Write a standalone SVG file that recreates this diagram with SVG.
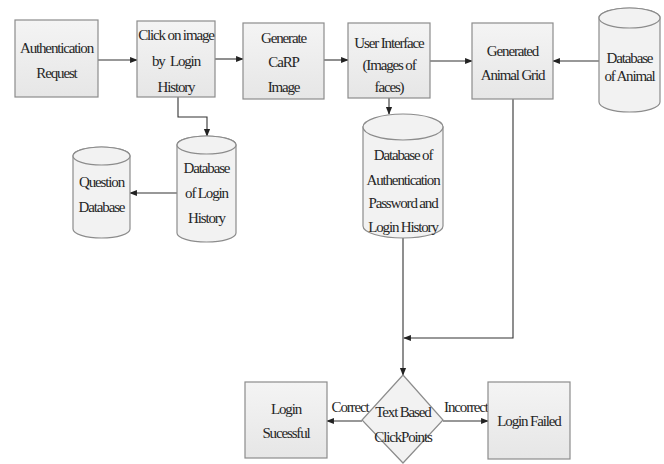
<svg xmlns="http://www.w3.org/2000/svg" width="664" height="464" viewBox="0 0 664 464">
<defs>
<linearGradient id="g" x1="0" y1="0" x2="0" y2="1"><stop offset="0" stop-color="#f4f4f4"/><stop offset="1" stop-color="#e6e6e6"/></linearGradient>
<marker id="a" viewBox="0 0 10 10" refX="9" refY="5" markerWidth="7" markerHeight="7" orient="auto"><path d="M0,1 L10,5 L0,9 z" fill="#222"/></marker>
</defs>
<style>
.b{fill:url(#g);stroke:#8c8c8c;stroke-width:1.2}
.c{fill:#f2f2f2;stroke:#8c8c8c;stroke-width:1.2}
.t{font-family:"Liberation Serif",serif;font-size:15px;fill:#262626;text-anchor:middle;letter-spacing:-1.15px}
.l{fill:none;stroke:#333;stroke-width:1.1}
</style>
<rect width="664" height="464" fill="#fff"/>
<g id="connectors">
<path class="l" d="M98,60 H137" marker-end="url(#a)"/>
<path class="l" d="M215,59 H243" marker-end="url(#a)"/>
<path class="l" d="M324,60 H348" marker-end="url(#a)"/>
<path class="l" d="M430,61 H472" marker-end="url(#a)"/>
<path class="l" d="M599,61 H553" marker-end="url(#a)"/>
<path class="l" d="M178,97 V117 H207 V136" marker-end="url(#a)"/>
<path class="l" d="M177,193 H130" marker-end="url(#a)"/>
<path class="l" d="M389,98 V114" marker-end="url(#a)"/>
<path class="l" d="M513,99 V338 H404" marker-end="url(#a)"/>
<path class="l" d="M403,237 V375" marker-end="url(#a)"/>
<path class="l" d="M362,421 H327" marker-end="url(#a)"/>
<path class="l" d="M443,421 H488" marker-end="url(#a)"/>
<text class="t" x="350" y="412">Correct</text>
<text class="t" x="466" y="412">Incorrect</text>
</g>
<g id="auth">
<rect class="b" x="15" y="20" width="83" height="77"/>
<text class="t" x="56.5" y="53">Authentication</text>
<text class="t" x="56.5" y="78">Request</text>
</g>
<g id="click">
<rect class="b" x="137" y="21" width="78" height="76"/>
<text class="t" x="176" y="40">Click on image</text>
<text class="t" x="176" y="66">by &#160;Login</text>
<text class="t" x="176" y="92">History</text>
</g>
<g id="carp">
<rect class="b" x="243" y="23" width="81" height="76"/>
<text class="t" x="283.5" y="43">Generate</text>
<text class="t" x="283.5" y="67">CaRP</text>
<text class="t" x="283.5" y="92">Image</text>
</g>
<g id="ui">
<rect class="b" x="348" y="23" width="82" height="75"/>
<text class="t" x="389" y="48">User Interface</text>
<text class="t" x="389" y="70">(Images of</text>
<text class="t" x="389" y="92">faces)</text>
</g>
<g id="grid">
<rect class="b" x="472" y="23" width="81" height="76"/>
<text class="t" x="512.5" y="56">Generated</text>
<text class="t" x="512.5" y="80">Animal Grid</text>
</g>
<g id="dbanimal">
<path class="c" d="M599,18 V102 A30.5,10 0 0 0 660,102 V18 A30.5,10 0 0 0 599,18 Z"/>
<ellipse class="c" cx="629.5" cy="18" rx="30.5" ry="10"/>
<text class="t" x="629.5" y="63">Database</text>
<text class="t" x="629.5" y="81">of Animal</text>
</g>
<g id="dblogin">
<path class="c" d="M177,145 V233 A29.5,9 0 0 0 236,233 V145 A29.5,9 0 0 0 177,145 Z"/>
<ellipse class="c" cx="206.5" cy="145" rx="29.5" ry="9"/>
<text class="t" x="206.5" y="173">Database</text>
<text class="t" x="206.5" y="198">of Login</text>
<text class="t" x="206.5" y="223">History</text>
</g>
<g id="question">
<path class="c" d="M73,156 V229 A28.5,9 0 0 0 130,229 V156 A28.5,9 0 0 0 73,156 Z"/>
<ellipse class="c" cx="101.5" cy="156" rx="28.5" ry="9"/>
<text class="t" x="101.5" y="187">Question</text>
<text class="t" x="101.5" y="212">Database</text>
</g>
<g id="dbauth">
<path class="c" d="M363,127 V226 A40,12 0 0 0 443,226 V127 A40,12 0 0 0 363,127 Z"/>
<ellipse class="c" cx="403" cy="127" rx="40" ry="13"/>
<text class="t" x="403" y="160">Database of</text>
<text class="t" x="403" y="185">Authentication</text>
<text class="t" x="403" y="208">Password and</text>
<text class="t" x="403" y="232">Login History</text>
</g>
<g id="decision">
<path class="c" d="M403,375 L443,420 L403,463 L362,420 Z"/>
<text class="t" x="403" y="417">Text Based</text>
<text class="t" x="403" y="442">ClickPoints</text>
</g>
<g id="success">
<rect class="b" x="245" y="382" width="82" height="76"/>
<text class="t" x="286" y="414">Login</text>
<text class="t" x="286" y="438">Sucessful</text>
</g>
<g id="failed">
<rect class="b" x="488" y="382" width="82" height="77"/>
<text class="t" x="529" y="426">Login Failed</text>
</g>
</svg>
